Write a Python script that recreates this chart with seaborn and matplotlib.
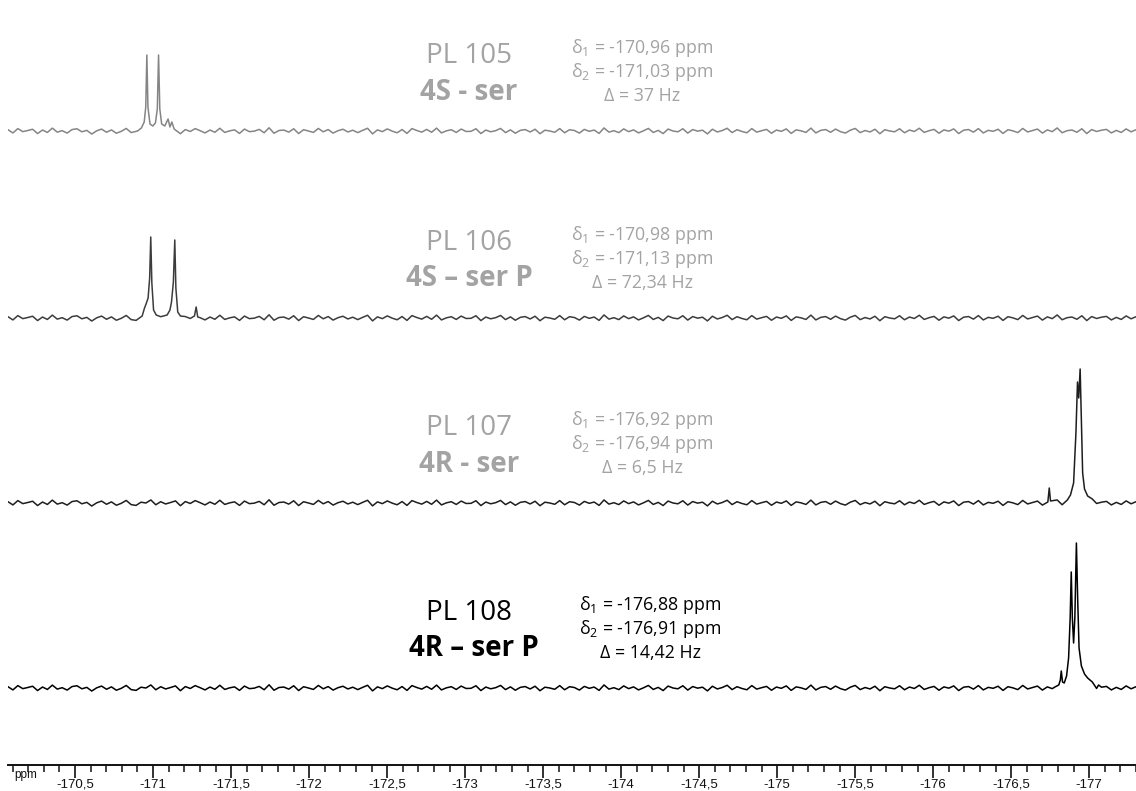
"""Stacked 19F NMR spectra PL 105-108 with seaborn line plots."""

import matplotlib

matplotlib.use('Agg')

import matplotlib.pyplot as plt
import numpy as np
import pandas as pd
import seaborn as sns
from matplotlib.ticker import FuncFormatter, MultipleLocator

# ---- data (ppm, intensity in arbitrary units) ----
labels = ['PL 105', 'PL 106', 'PL 107', 'PL 108']
subtitles = ['4S - ser', '4S \u2013 ser P', '4R - ser', '4R \u2013 ser P']
delta1 = ['-170,96', '-170,98', '-176,92', '-176,88']
delta2 = ['-171,03', '-171,13', '-176,94', '-176,91']
coupling = ['37 Hz', '72,34 Hz', '6,5 Hz', '14,42 Hz']

s1_ppm = [-170.90, -170.925, -170.943, -170.953, -170.960, -170.967, -170.980,
          -170.998, -171.015, -171.027, -171.035, -171.043, -171.055, -171.075,
          -171.096, -171.108, -171.120, -171.135]
s1_int = [0, 3, 9, 24, 76, 24, 7, 5, 8, 22, 76, 22, 7, 5, 12, 4, 9, 2]

s2_ppm = [-170.93, -170.945, -170.955, -170.968, -170.978, -170.985, -170.992,
          -171.003, -171.02, -171.09, -171.108, -171.118, -171.130, -171.139,
          -171.146, -171.158, -171.175, -171.265, -171.276, -171.286]
s2_int = [2, 10, 14, 20, 40, 81, 35, 8, 3, 3, 8, 16, 36, 78, 30, 6, 2, 2, 11, 1]

s3_ppm = [-176.735, -176.744, -176.752, -176.86, -176.88, -176.90, -176.915,
          -176.925, -176.933, -176.942, -176.950, -176.958, -176.97, -176.99,
          -177.02]
s3_int = [1, 15, 2, 3, 8, 20, 70, 121, 105, 134, 80, 30, 14, 7, 4]

s4_ppm = [-176.78, -176.805, -176.815, -176.821, -176.829, -176.84, -176.855,
          -176.868, -176.878, -176.885, -176.892, -176.900, -176.908, -176.918,
          -176.926, -176.935, -176.95, -176.97, -176.99, -177.02, -177.06]
s4_int = [1, 3, 8, 17, 6, 5, 12, 30, 70, 116, 70, 45, 70, 145, 90, 40, 22,
          14, 10, 6, 3]

# baseline noise samples, spread evenly along the ppm range
baseline_noise = [
    0.8, -1.2, 1.5, -0.4, 0.3, 1.1, -1.6, 0.6, -0.9, 1.8, -0.7, 0.2, -1.3,
    0.9, 1.4, -0.5, 0.4, -1.9, 0.1, 1.2, -0.8, 0.7, -1.4, -0.2, 1.6, -1.0,
    -1.5, 0.5, 0.0, 1.9, -1.1, 0.8, -0.6, 0.3, 1.3, -1.7, 0.9, -0.3, 1.5,
    0.2, -1.2, 0.6, -0.8, 1.7, -0.9, 0.1, 0.7, -1.5, 1.2, -0.4, -0.1, 1.0,
    -1.1, 2.0, -1.4, 0.3, 0.6, -0.7, 1.4, -1.6, 0.8, 0.0, -0.9, 1.6, -0.5,
    0.9, -1.3, 0.2, 1.1, -0.6, 0.5, -1.0, 0.4, 1.7, -1.8, 0.7, -0.4, 1.3,
    -0.1, -1.1, 0.9, -1.5, 1.5, 0.3, -0.7, 1.0, -0.8, 1.8, -1.2, 0.1, 0.8,
    -0.9, 1.2, -0.3, -0.2, 1.4, -1.6, 0.6, -0.5, 0.2, 1.6, -1.0, 0.7, -1.4,
    0.4, 0.9, -0.6, 1.1, -1.7, 0.5, 0.0, -0.8, 1.5, -1.1, 0.8, 0.3, -1.3,
    1.0, -0.2, 0.6, -1.5, 1.9, -0.7, 0.2, -1.0, 1.3, -0.4, 0.7, -1.2, 0.1,
    1.6, -0.9, 0.4, -1.6, 1.2, 0.0, -0.5, 1.4, -1.3, 0.9, -0.1, 0.5, -1.8,
    1.1, -0.6, 0.3, 1.7, -1.0, 0.8, -0.3, -1.1, 1.5, -0.7, 0.2, 1.0, -1.4,
    0.6, -0.2, 1.3, -1.5, 0.7, 0.1, -0.9, 1.8, -1.2, 0.4, 0.9, -0.8, 1.2,
    -0.4, -1.3, 0.5, 1.6, -1.0, 0.3, -0.6, 1.1, -1.7, 0.8, 0.0, -0.5, 1.4,
    -1.1, 0.6, -0.3, 1.7, -0.9, 0.2, 1.0, -1.4, 0.7, -0.1, 1.3, -1.6, 0.5,
    0.9, -0.7, 1.5, -1.2, 0.4, -0.2, 1.1, -1.5, 0.8, 0.1, -1.0, 1.6, -0.6,
    0.3, 1.2, -1.3, 0.7, -0.4, 1.9, -1.1, 0.2, 0.6, -0.8, 1.4, -1.6, 0.9,
    -0.3, 0.5, 1.0, -1.2, 0.4, -0.9, 1.3, -0.5, 0.8,
]

spectra = [(s1_ppm, s1_int), (s2_ppm, s2_int), (s3_ppm, s3_int), (s4_ppm, s4_int)]

XMIN, XMAX = -170.07, -177.30


def build_trace(peak_ppm, peak_int):
    grid = np.linspace(XMIN, XMAX, len(baseline_noise))
    noise = np.array(baseline_noise, dtype=float) * 1.6
    pk = np.array(peak_ppm)
    dist = np.abs(grid[:, None] - pk[None, :]).min(axis=1)
    keep = dist > 0.012
    x = np.concatenate([grid[keep], pk])
    y = np.concatenate([noise[keep], peak_int])
    order = np.argsort(x)
    return pd.DataFrame({'ppm': x[order], 'intensity': y[order]})


def main() -> None:
    sns.set_theme(style='white')
    plt.rcParams['font.family'] = ['Open Sans', 'DejaVu Sans']
    plt.rcParams['mathtext.fontset'] = 'custom'
    plt.rcParams['mathtext.rm'] = 'Open Sans'
    plt.rcParams['mathtext.it'] = 'Open Sans:italic'

    W, H = 1136, 791
    fig = plt.figure(figsize=(W / 100, H / 100), dpi=100)
    axis_y = 765
    ax = fig.add_axes([8 / W, (H - axis_y) / H, 1 - 8 / W, axis_y / H])

    offsets = [634, 447, 262, 77]
    line_colors = ['#858585', '#3c3c3c', '#1e1e1e', '#000000']
    text_colors = ['#a3a3a3', '#a3a3a3', '#a3a3a3', '#000000']
    delta_cx = [642, 642, 642, 650]

    for i, (pp, ii) in enumerate(spectra):
        df = build_trace(pp, ii)
        df['y'] = df['intensity'] + offsets[i]
        sns.lineplot(data=df, x='ppm', y='y', ax=ax, color=line_colors[i],
                     lw=1.1, estimator=None, sort=False)

        base_px = axis_y - offsets[i]
        tc = text_colors[i]
        # sample label and configuration
        fig.text(469 / W, 1 - (base_px - 75) / H, labels[i], ha='center',
                 va='center', fontsize=20, color=tc)
        lab_x = 469 if i < 3 else 474
        fig.text(lab_x / W, 1 - (base_px - 39) / H, subtitles[i], ha='center',
                 va='center', fontsize=20, fontweight='bold', color=tc)
        # chemical shifts and coupling
        cx = delta_cx[i] / W
        fig.text(cx, 1 - (base_px - 83) / H, 'δ$_1$ = ' + delta1[i] + ' ppm',
                 ha='center', va='center', fontsize=12.8, color=tc)
        fig.text(cx, 1 - (base_px - 59) / H, 'δ$_2$ = ' + delta2[i] + ' ppm',
                 ha='center', va='center', fontsize=12.8, color=tc)
        fig.text(cx, 1 - (base_px - 35) / H, 'Δ = ' + coupling[i],
                 ha='center', va='center', fontsize=12.8, color=tc)

    ax.set_xlim(XMIN, XMAX)
    ax.set_ylim(0, axis_y)
    ax.set_xlabel('')
    ax.set_ylabel('')
    ax.set_yticks([])
    for side in ['top', 'left', 'right']:
        ax.spines[side].set_visible(False)
    ax.spines['bottom'].set_color('#111111')
    ax.spines['bottom'].set_linewidth(1.4)
    ax.xaxis.set_major_locator(MultipleLocator(0.5))
    ax.xaxis.set_minor_locator(MultipleLocator(0.1))
    ax.xaxis.set_major_formatter(
        FuncFormatter(lambda v, _: f'{v:g}'.replace('.', ',')))
    ax.tick_params(axis='x', which='major', direction='out', length=9,
                   width=1.2, color='#111111', labelsize=9.5, pad=1,
                   labelcolor='#111111', bottom=True)
    ax.tick_params(axis='x', which='minor', direction='out', length=5,
                   width=1.1, color='#111111', bottom=True)
    for lbl in ax.get_xticklabels():
        lbl.set_family(['Liberation Sans', 'DejaVu Sans'])
    fig.text(26 / W, 1 - 775 / H, 'ppm', ha='center', va='center',
             fontsize=8.5, family=['Liberation Sans', 'DejaVu Sans'],
             color='#111111')

    fig.savefig('out.png', dpi=100)
    plt.close(fig)


if __name__ == '__main__':
    main()
